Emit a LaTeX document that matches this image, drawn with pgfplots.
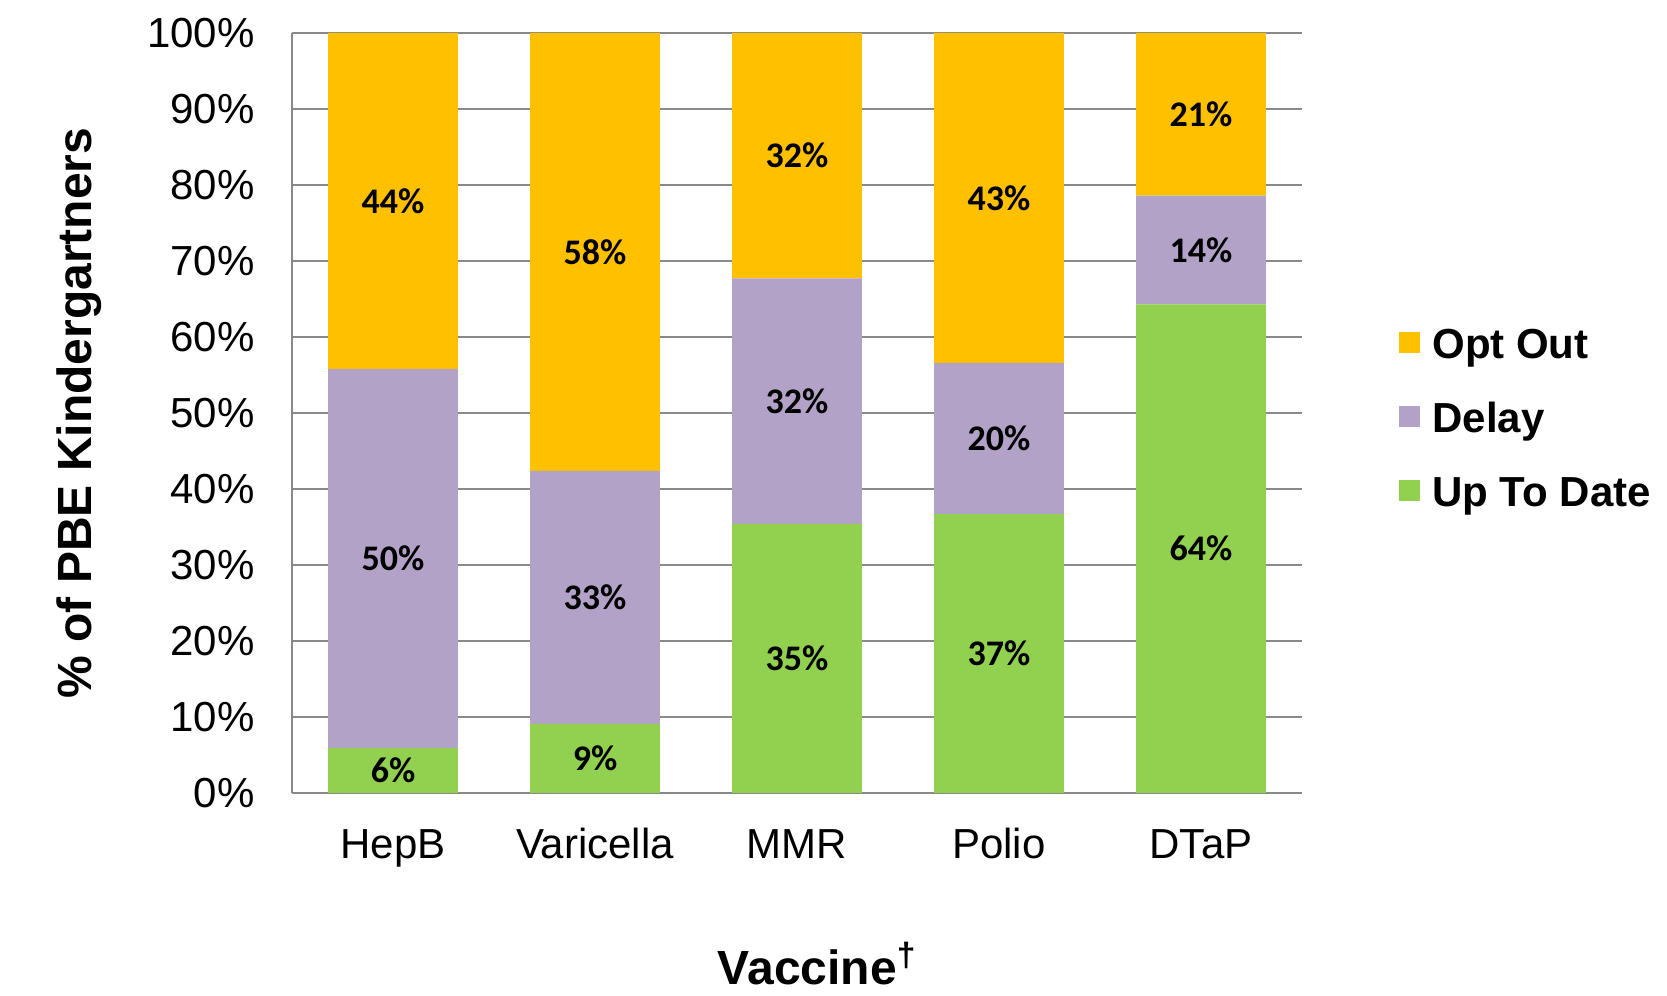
\documentclass[border=0pt]{standalone}
\usepackage{fontspec}
\setmainfont{Liberation Sans}
\newfontfamily\carlito{Carlito}
\usepackage{pgfplots}
\pgfplotsset{compat=1.18}
\definecolor{optout}{HTML}{FFC000}
\definecolor{delay}{HTML}{B3A2C7}
\definecolor{utd}{HTML}{92D050}
\definecolor{gridgray}{HTML}{898989}
\pgfplotsset{sq legend/.style={legend image code/.code={\fill[##1,draw=none] (0pt,-2.75pt) rectangle (10.5pt,7.75pt);}}}
\begin{document}
\begin{tikzpicture}
\useasboundingbox (0,0) rectangle (833.5pt,498pt);
\begin{axis}[
 at={(146pt,101.5pt)}, anchor=south west,
 scale only axis, width=505pt, height=380pt,
 ybar stacked, bar width=0.642,
 xmin=-0.5, xmax=4.5, ymin=0, ymax=100,
 xtick={0,1,2,3,4}, xticklabels={HepB,Varicella,MMR,Polio,DTaP},
 ytick={0,10,...,100},
 yticklabel={\pgfmathprintnumber{\tick}\%},
 /pgf/number format/assume math mode=true,
 axis x line=bottom, axis y line=left,
 axis line style={gridgray, line width=1pt, -},
 ymajorgrids, grid style={gridgray, line width=1pt},
 major tick length=0pt,
 tick label style={font=\fontsize{21}{25}\selectfont},
 yticklabel style={anchor=east, inner sep=0pt, xshift=-18.5pt},
 xticklabel style={anchor=base, inner sep=0pt, yshift=-33pt},
 xlabel={Vaccine\textsuperscript{†}},
 xlabel style={font=\bfseries\fontsize{24}{28}\selectfont, at={(axis description cs:0.520,-0.2526)}, anchor=base},
 ylabel={\% of PBE Kindergartners},
 ylabel style={font=\bfseries\fontsize{24}{28}\selectfont, at={(axis description cs:-0.211,0.5)}, anchor=center},
 visualization depends on={rawy \as \rawy},
 nodes near coords={\pgfmathprintnumber[fixed,precision=0]{\rawy}\%},
 every node near coord/.append style={font=\carlito\bfseries\fontsize{18}{22}\selectfont, anchor=center},
 legend style={at={(axis description cs:1.096,0.4894)}, anchor=west, draw=none, fill=none, inner sep=0pt,
   font=\bfseries\fontsize{21}{25}\selectfont, row sep=18pt, column sep=6pt,
   nodes={inner sep=0pt, text height=15pt, text depth=4pt}},
 legend cell align=left,
 reverse legend,
]
\addplot[fill=utd, draw=none, sq legend] coordinates {(0,5.9) (1,9.1) (2,35.4) (3,36.7) (4,64.3)};
\addplot[fill=delay, draw=none, sq legend] coordinates {(0,49.9) (1,33.3) (2,32.3) (3,19.9) (4,14.3)};
\addplot[fill=optout, draw=none, sq legend] coordinates {(0,44.2) (1,57.6) (2,32.3) (3,43.4) (4,21.4)};
\legend{Up To Date, Delay, Opt Out}
\end{axis}
\end{tikzpicture}
\end{document}
